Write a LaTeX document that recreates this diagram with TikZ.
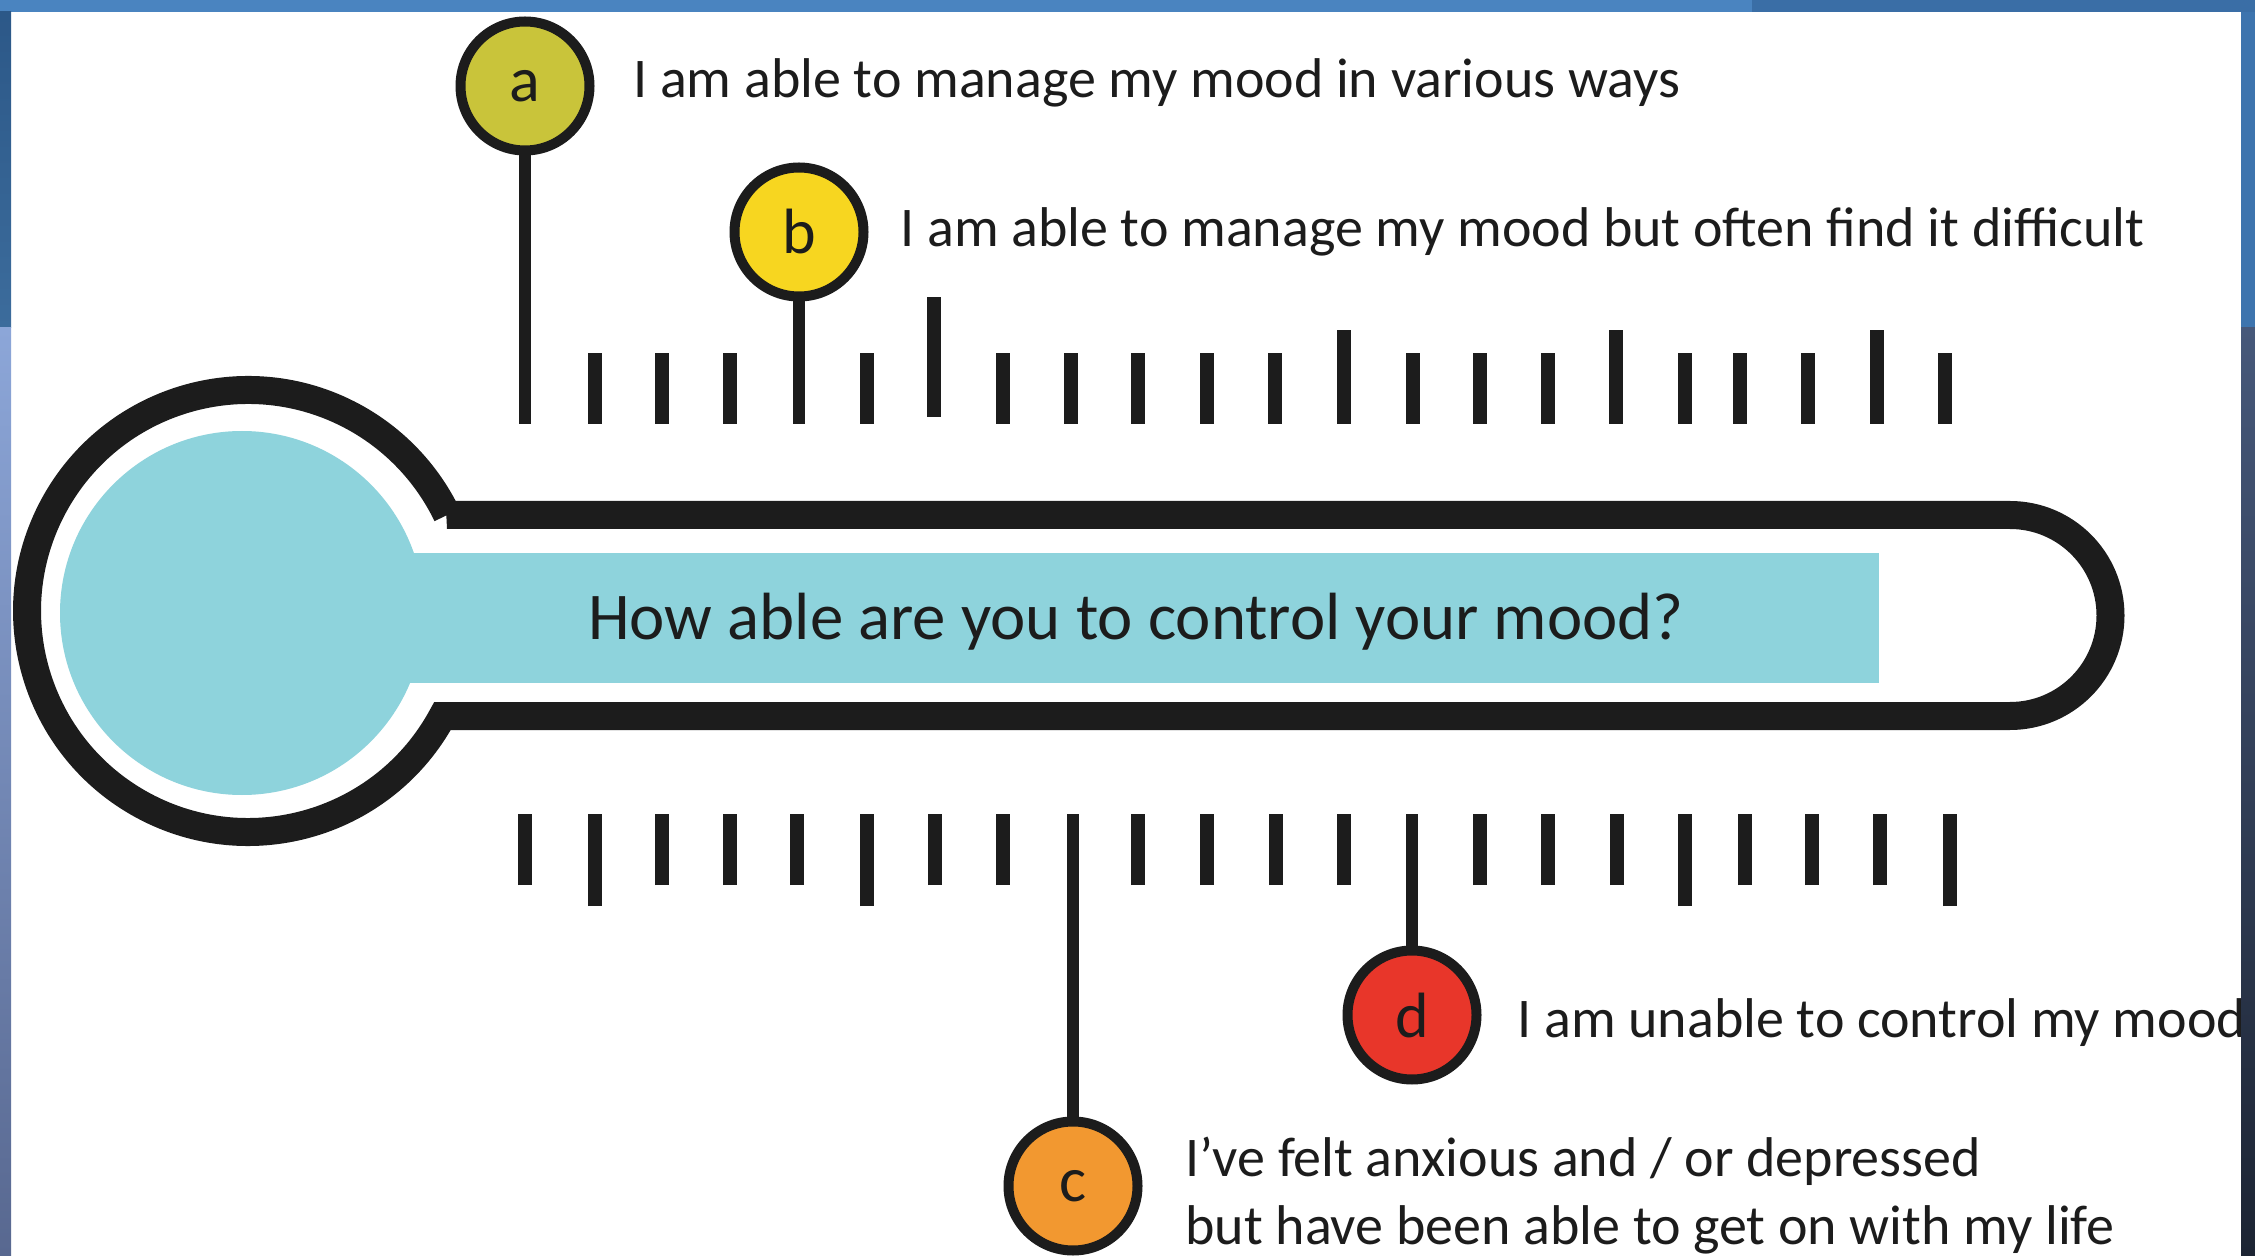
\documentclass[tikz,border=0pt]{standalone}
\usepackage{fontspec}
\setmainfont{Carlito}
\usepackage{tikz}

\definecolor{ink}{RGB}{28,28,28}
\definecolor{mercury}{RGB}{142,211,220}
\definecolor{optA}{RGB}{201,196,58}
\definecolor{optB}{RGB}{247,214,32}
\definecolor{optC}{RGB}{242,152,48}
\definecolor{optD}{RGB}{232,54,42}
\definecolor{frameA}{RGB}{74,132,192}
\definecolor{frameB}{RGB}{58,110,166}
\definecolor{frameC}{RGB}{61,116,174}
\definecolor{leftTop}{RGB}{44,88,136}
\definecolor{leftTopEnd}{RGB}{60,108,156}
\definecolor{leftLow}{RGB}{140,166,216}
\definecolor{leftLowEnd}{RGB}{88,104,144}
\definecolor{rightLow}{RGB}{70,88,122}
\definecolor{rightLowEnd}{RGB}{28,36,51}

\tikzset{
  scaletick/.style={ink, line width=7pt},
  stem/.style={ink, line width=6pt},
  knob/.style={circle, draw=ink, line width=5pt, minimum size=64.5pt, inner sep=0pt,
    text=ink, font=\fontsize{32pt}{36pt}\selectfont},
  note/.style={anchor=base west, inner sep=0pt, text=ink, font=\fontsize{28pt}{34pt}\selectfont}
}

\begin{document}
\begin{tikzpicture}[x=0.5pt, y=0.5pt]
  \useasboundingbox (0,0) rectangle (2255,1255);
  \fill[white] (0,0) rectangle (2255,1255);

  % thermometer
  \fill[mercury] (242,642) circle (182);
  \fill[mercury] (400,572) rectangle (1879,702);
  \draw[ink, line width=14pt] (447,740) -- (2010,740) arc[start angle=90, end angle=-90, radius=100.5]
    -- (442.5,539) arc[start angle=-28.37, end angle=-334.25, radius=221] -- cycle;
  \node[anchor=base, inner sep=0pt, text=ink, font=\fontsize{33.4pt}{40pt}\selectfont] (question) at (1136,615)
    {How able are you to control your mood?};

  % scale above
  \foreach \x in {595,662,730,867,1003,1071,1138,1207,1275,1413,1480,1548,1685,1740,1808,1945}
    \draw[scaletick] (\x,831) -- (\x,902);
  \draw[scaletick] (934,838) -- (934,958);
  \foreach \x in {1344,1616,1877}
    \draw[scaletick] (\x,831) -- (\x,925);

  % scale below
  \foreach \x in {525,662,730,797,935,1003,1138,1207,1276,1344,1480,1548,1617,1745,1812,1880}
    \draw[scaletick] (\x,370) -- (\x,441);
  \foreach \x in {595,867,1685,1950}
    \draw[scaletick] (\x,349) -- (\x,441);

  \node[knob, fill=optA] (a) at (525,1169) {a};
  \node[knob, fill=optB] (b) at (799,1023) {b};
  \node[knob, fill=optC] (c) at (1073,69) {c};
  \node[knob, fill=optD] (d) at (1412,240) {d};
  \coordinate (a0) at (525,831);
  \coordinate (b0) at (799,831);
  \coordinate (c0) at (1073,441);
  \coordinate (d0) at (1412,441);
  \draw[stem] (a) -- (a0);
  \draw[stem] (b) -- (b0);
  \draw[stem] (c) -- (c0);
  \draw[stem] (d) -- (d0);

  \node[note] (na) at (633,1157) {I am able to manage my mood in various ways};
  \node[note] (nb) at (900,1008) {I am able to manage my mood but often find it difficult};
  \node[note] (nd) at (1517,218) {I am unable to control my mood};
  \node[note] (nc) at (1185,79) {I’ve felt anxious and / or depressed};
  \node[note] (nc2) at (1185,11) {but have been able to get on with my life};

  % slide frame
  \fill[frameA] (0,1243) rectangle (1752,1255);
  \fill[frameB] (1752,1243) rectangle (2255,1255);
  \shade[top color=leftTop, bottom color=leftTopEnd] (0,927) rectangle (11,1243);
  \shade[top color=leftLow, bottom color=leftLowEnd] (0,0) rectangle (11,927);
  \fill[frameC] (2241,927) rectangle (2255,1243);
  \shade[top color=rightLow, bottom color=rightLowEnd] (2241,0) rectangle (2255,927);
\end{tikzpicture}
\end{document}
